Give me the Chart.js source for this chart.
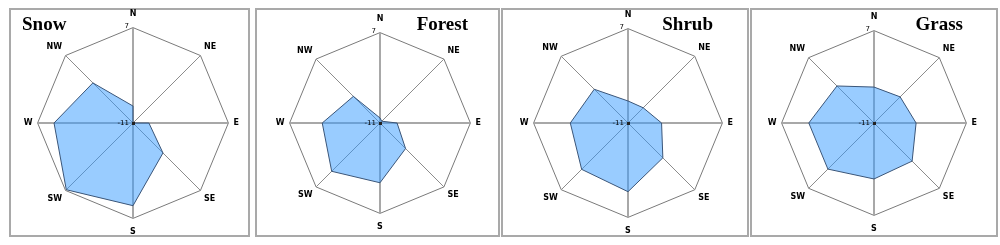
<!DOCTYPE html>
<html lang="en">
<head>
  <meta charset="UTF-8">
  <title>Wind direction radar</title>
  <script src="https://cdn.jsdelivr.net/npm/chart.js"></script>
  <style>
    body {
      margin: 0;
      background: #fff;
      width: 1000px;
      height: 245px;
      position: relative;
      overflow: hidden;
    }

    .box {
      position: absolute;
      top: 8px;
      height: 225px;
      border: 2px solid #a9a9a9;
      box-sizing: content-box;
    }

    .title {
      position: absolute;
      top: 13px;
      font-family: 'Liberation Serif', 'Times New Roman', serif;
      font-weight: bold;
      font-size: 19px;
      color: #000;
      z-index: 2;
    }

    canvas {
      position: absolute;
      z-index: 1;
    }
  </style>
</head>
<body>
  <script>
    // directions, clockwise from north
    const directions = ['N', 'NE', 'E', 'SE', 'S', 'SW', 'W', 'NW'];
    const tickValues = [-11, 7];

    const snow = [-7.8, -11, -8.0, -3.0, 4.6, 6.8, 3.9, -0.3];
    const forest = [-10.0, -10.5, -7.6, -3.8, 0.9, 2.6, 0.5, -3.5];
    const shrub = [-6.8, -6.9, -4.6, -1.6, 2.1, 1.5, 0.0, -1.9];
    const grass = [-4.0, -3.8, -2.8, -0.5, -0.1, 1.7, 1.7, -0.8];

    // panel layout: box edges, radar centre and canvas height (sets radius)
    const panels = [
      { name: 'Snow', data: snow, left: 9, width: 237, cx: 132, size: 228, titleLeft: 13 },
      { name: 'Forest', data: forest, left: 255, width: 241, cx: 379, size: 218, titleRight: 28 },
      { name: 'Shrub', data: shrub, left: 501, width: 244, cx: 627, size: 226, titleRight: 32 },
      { name: 'Grass', data: grass, left: 750, width: 244, cx: 873, size: 222, titleRight: 31 }
    ];
    const cy = 123;

    // tick labels sit to the left of the north axis
    const tickLabelPlugin = {
      id: 'tickLabels',
      afterDraw(chart) {
        const r = chart.scales.r;
        const ctx = chart.ctx;
        ctx.save();
        ctx.font = '7px "DejaVu Sans", sans-serif';
        ctx.fillStyle = '#000';
        ctx.textAlign = 'right';
        ctx.textBaseline = 'middle';
        tickValues.forEach(v => {
          const d = r.getDistanceFromCenterForValue(v);
          const y = r.yCenter - d - (v === 7 ? 1 : 0);
          ctx.fillText(String(v), r.xCenter - 4, y);
        });
        ctx.fillStyle = '#222';
        ctx.fillRect(r.xCenter - 1, r.yCenter - 1, 3, 3);
        ctx.restore();
      }
    };

    panels.forEach(p => {
      const box = document.createElement('div');
      box.className = 'box';
      box.style.left = p.left + 'px';
      box.style.width = p.width + 'px';
      document.body.appendChild(box);

      const title = document.createElement('div');
      title.className = 'title';
      title.textContent = p.name;
      if (p.titleLeft !== undefined) {
        title.style.left = (p.left + p.titleLeft) + 'px';
      } else {
        title.style.left = (p.left + p.width - p.titleRight) + 'px';
        title.style.transform = 'translateX(-100%)';
      }
      document.body.appendChild(title);

      const canvas = document.createElement('canvas');
      canvas.width = p.size;
      canvas.height = p.size;
      canvas.style.left = (p.cx - p.size / 2) + 'px';
      canvas.style.top = (cy - p.size / 2) + 'px';
      document.body.appendChild(canvas);

      new Chart(canvas.getContext('2d'), {
        type: 'radar',
        data: {
          labels: directions,
          datasets: [{
            label: p.name,
            data: p.data,
            backgroundColor: 'rgba(51, 153, 255, 0.5)',
            borderColor: '#3a5578',
            borderWidth: 1,
            pointRadius: 0,
            fill: 'start'
          }]
        },
        options: {
          responsive: false,
          animation: false,
          plugins: {
            legend: { display: false },
            tooltip: { enabled: false }
          },
          scales: {
            r: {
              min: -11,
              max: 7,
              ticks: { display: false, stepSize: 18 },
              grid: { color: '#7a7a7a', lineWidth: 1 },
              angleLines: {
                color: ctx => ctx.index % 2 === 0 ? '#a8a8a8' : '#8c8c8c',
                lineWidth: ctx => ctx.index % 2 === 0 ? 2 : 1
              },
              pointLabels: {
                color: '#000',
                padding: ctx => ctx.index % 4 === 0 ? 9 : 5,
                font: { family: '"DejaVu Sans", sans-serif', size: 8, weight: 'bold' }
              }
            }
          }
        },
        plugins: [tickLabelPlugin]
      });
    });
  </script>
</body>
</html>
